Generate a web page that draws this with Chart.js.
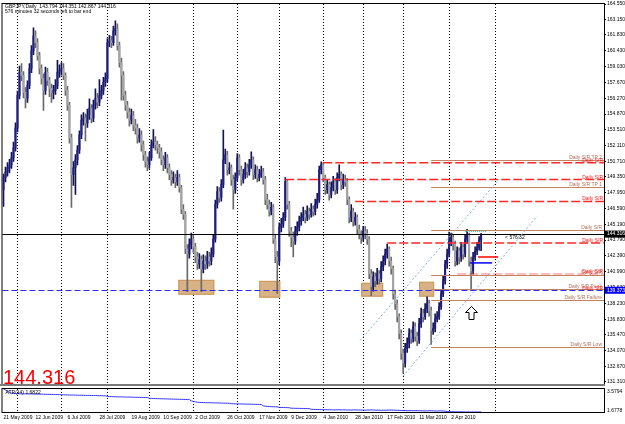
<!DOCTYPE html>
<html>
<head>
<meta charset="utf-8">
<script src="https://cdn.jsdelivr.net/npm/chart.js@4.4.1/dist/chart.umd.min.js"></script>
<style>
  html, body { margin: 0; padding: 0; background: #fff; }
  #wrap { position: relative; width: 625px; height: 424px; overflow: hidden; }
  .pane { position: absolute; left: 0; width: 625px; }
</style>
</head>
<body>
<div id="wrap">
  <div class="pane" style="top:0;height:388px"><canvas id="main"></canvas></div>
  <div class="pane" style="top:388px;height:36px"><canvas id="atr"></canvas></div>
</div>
<script>
// GBPJPY daily candles, 21 May 2009 .. 23 Apr 2010
const opens = [
  148.23,149.28,149.80,150.15,150.41,151.03,151.90,153.64,156.52,158.53,
  158.27,156.78,156.26,157.40,158.88,160.45,161.76,161.15,160.01,158.88,
  158.01,156.96,158.53,157.83,157.13,156.78,156.96,157.40,158.53,158.70,
  158.88,158.27,156.96,155.65,152.77,149.54,150.15,150.85,151.72,153.03,
  154.34,154.52,154.08,154.78,155.39,154.52,155.65,156.26,155.91,156.52,
  156.96,157.66,158.01,161.15,161.32,161.15,162.19,162.37,160.89,159.40,
  158.27,156.52,155.65,155.04,154.34,154.78,153.90,153.64,152.77,153.03,
  152.16,151.29,150.68,150.41,151.03,152.16,152.42,152.16,151.90,151.55,
  150.85,150.41,151.03,150.15,149.54,149.11,149.28,148.93,149.28,148.41,
  146.49,146.05,143.00,142.56,143.43,143.87,143.17,142.30,141.69,142.12,
  141.25,141.95,141.69,142.30,141.95,142.56,143.87,146.92,148.06,147.53,
  148.67,150.85,151.29,149.98,150.15,149.11,148.23,149.28,151.03,149.98,
  149.11,149.54,150.15,149.80,150.41,150.85,149.54,149.98,149.28,149.54,
  149.80,149.11,147.36,146.92,146.31,146.66,143.87,142.30,141.95,144.92,
  145.18,145.79,148.93,146.92,144.57,144.04,143.70,144.57,144.92,145.44,
  145.79,146.05,145.79,146.31,146.05,146.49,146.31,146.92,147.36,149.98,
  150.41,149.28,148.23,148.67,147.80,148.41,148.93,148.23,149.28,149.54,
  148.67,149.11,148.93,147.36,145.79,146.31,145.44,145.79,144.74,144.31,
  144.04,144.57,144.39,143.87,140.82,139.68,140.55,140.21,140.82,140.38,
  141.43,141.95,142.56,143.00,141.95,141.25,139.07,138.20,137.06,135.58,
  133.84,132.96,134.27,134.71,135.58,135.14,136.19,135.32,134.97,136.45,
  137.33,137.06,137.76,138.20,137.59,135.84,136.02,136.89,137.06,137.94,
  139.07,140.21,141.69,142.56,143.70,144.04,143.43,141.95,142.82,142.30,
  143.17,142.56,143.87,144.22,141.95,141.08,142.30,142.82,143.17,143.794
];
const highs = [
  149.60,150.20,150.60,150.90,151.50,152.40,154.10,156.90,159.10,159.30,
  158.60,157.20,157.80,159.30,160.90,162.46,162.20,161.50,160.30,159.20,
  158.40,159.00,158.90,158.10,157.50,157.40,157.90,159.60,159.20,159.40,
  159.30,158.50,157.30,155.90,153.10,150.70,151.30,152.10,153.40,154.80,
  155.00,154.90,155.30,156.20,155.70,156.10,157.10,156.70,157.90,157.40,
  158.10,158.50,161.50,161.80,161.70,162.60,163.07,162.80,161.20,159.80,
  158.60,156.90,156.00,155.40,155.30,155.10,154.40,154.00,153.60,153.40,
  152.50,151.60,151.10,151.50,152.60,153.50,152.90,152.50,152.20,151.90,
  151.20,151.50,151.30,150.50,149.90,149.80,149.60,149.90,149.60,148.60,
  146.90,146.30,143.40,143.90,144.40,144.20,143.50,142.70,142.60,142.40,
  142.50,142.40,142.80,142.70,143.10,144.20,147.30,148.50,148.40,149.10,
  153.47,151.80,151.60,150.60,150.40,149.50,149.70,151.40,151.30,150.30,
  150.00,150.60,150.50,150.90,151.55,151.10,150.40,150.30,150.00,150.30,
  150.10,149.40,147.80,147.30,147.10,146.90,144.20,142.80,145.30,145.70,
  146.20,149.28,149.10,147.20,144.90,144.50,145.00,145.40,145.90,146.20,
  146.70,146.40,146.80,146.60,147.00,146.80,147.40,147.90,150.30,150.68,
  150.60,149.50,149.10,148.90,148.90,149.40,149.20,149.70,150.41,149.80,
  149.60,149.50,149.20,147.60,146.92,146.60,146.20,146.00,145.10,144.60,
  145.00,145.00,144.70,144.10,141.20,141.00,140.90,141.30,141.10,141.90,
  142.40,143.00,143.43,143.20,142.30,141.50,139.40,138.50,137.30,135.90,
  134.20,134.70,135.20,136.00,135.90,136.60,136.50,135.70,136.90,137.80,
  137.70,138.20,138.80,138.50,137.90,136.50,137.30,137.50,138.30,139.40,
  140.60,142.00,143.00,144.48,144.40,144.30,143.70,143.20,143.10,143.60,
  143.40,144.20,144.74,144.40,142.30,142.70,143.20,143.60,144.10,144.351
];
const lows = [
  146.75,148.90,149.40,149.70,150.10,150.70,151.60,153.30,156.20,157.80,
  156.30,155.40,155.90,157.10,158.50,160.10,160.70,159.60,158.40,157.50,
  155.20,156.60,157.40,156.40,155.90,156.20,156.60,157.10,158.10,158.30,
  157.90,156.50,155.20,152.30,146.66,148.60,147.80,150.40,151.40,152.70,
  153.90,152.50,153.70,154.40,154.10,154.20,155.30,155.40,155.60,156.20,
  156.60,157.30,157.70,160.80,160.70,160.90,161.80,160.50,159.00,156.10,
  156.10,155.20,154.50,153.80,154.00,153.40,153.10,152.30,152.40,151.60,
  150.80,150.20,149.90,150.10,150.80,151.90,151.70,151.40,151.00,150.40,
  149.90,150.10,149.70,149.10,148.60,148.80,148.40,148.60,148.00,146.10,
  145.60,142.60,139.24,142.20,143.00,142.70,141.80,141.20,141.30,139.24,
  140.90,141.20,141.30,141.50,141.60,142.30,143.60,146.60,147.10,147.20,
  148.40,150.50,149.50,149.60,148.60,146.50,147.90,149.00,149.50,148.60,
  148.80,149.20,149.30,149.50,150.10,149.10,149.20,148.90,149.00,149.30,
  148.70,146.90,146.50,145.90,146.00,143.50,141.80,139.07,141.60,144.50,
  144.90,145.50,146.50,144.10,143.20,142.30,143.40,144.20,144.60,145.10,
  145.50,145.30,145.50,145.60,145.80,145.90,146.00,146.60,147.10,149.60,
  148.90,147.80,147.90,147.30,147.50,148.10,147.80,147.90,149.00,148.20,
  148.30,148.50,146.90,145.30,145.40,145.00,145.10,144.30,143.90,143.50,
  143.70,143.90,143.40,140.40,138.90,139.30,139.70,139.90,139.90,140.10,
  141.10,141.60,142.20,141.50,140.80,138.60,137.70,136.60,135.10,133.30,
  132.09,132.60,133.90,134.30,134.70,134.80,134.90,134.50,134.70,136.10,
  136.60,136.80,137.40,137.10,134.62,135.50,135.70,136.60,136.80,137.70,
  138.80,139.90,141.30,142.30,143.30,142.90,141.50,141.60,141.70,141.90,
  142.10,142.30,143.50,141.50,139.33,140.80,142.00,142.50,142.90,142.867
];
const closes = [
  149.28,149.80,150.15,150.41,151.03,151.90,153.64,156.52,158.53,158.27,
  156.78,156.26,157.40,158.88,160.45,161.76,161.15,160.01,158.88,158.01,
  156.96,158.53,157.83,157.13,156.78,156.96,157.40,158.53,158.70,158.88,
  158.27,156.96,155.65,152.77,149.54,150.15,150.85,151.72,153.03,154.34,
  154.52,154.08,154.78,155.39,154.52,155.65,156.26,155.91,156.52,156.96,
  157.66,158.01,161.15,161.32,161.15,162.19,162.37,160.89,159.40,158.27,
  156.52,155.65,155.04,154.34,154.78,153.90,153.64,152.77,153.03,152.16,
  151.29,150.68,150.41,151.03,152.16,152.42,152.16,151.90,151.55,150.85,
  150.41,151.03,150.15,149.54,149.11,149.28,148.93,149.28,148.41,146.49,
  146.05,143.00,142.56,143.43,143.87,143.17,142.30,141.69,142.12,141.25,
  141.95,141.69,142.30,141.95,142.56,143.87,146.92,148.06,147.53,148.67,
  150.85,151.29,149.98,150.15,149.11,148.23,149.28,151.03,149.98,149.11,
  149.54,150.15,149.80,150.41,150.85,149.54,149.98,149.28,149.54,149.80,
  149.11,147.36,146.92,146.31,146.66,143.87,142.30,141.95,144.92,145.18,
  145.79,148.93,146.92,144.57,144.04,143.70,144.57,144.92,145.44,145.79,
  146.05,145.79,146.31,146.05,146.49,146.31,146.92,147.36,149.98,150.41,
  149.28,148.23,148.67,147.80,148.41,148.93,148.23,149.28,149.54,148.67,
  149.11,148.93,147.36,145.79,146.31,145.44,145.79,144.74,144.31,144.04,
  144.57,144.39,143.87,140.82,139.68,140.55,140.21,140.82,140.38,141.43,
  141.95,142.56,143.00,141.95,141.25,139.07,138.20,137.06,135.58,133.84,
  132.96,134.27,134.71,135.58,135.14,136.19,135.32,134.97,136.45,137.33,
  137.06,137.76,138.20,137.59,135.84,136.02,136.89,137.06,137.94,139.07,
  140.21,141.69,142.56,143.70,144.04,143.43,141.95,142.82,142.30,143.17,
  142.56,143.87,144.22,141.95,141.08,142.30,142.82,143.17,143.794,144.316
];
// ATR indicator values
const atr = [
  3.58,3.50,3.40,3.30,3.22,
  3.20,3.20,3.19,3.19,3.18,3.18,3.18,3.17,3.17,3.17,3.16,3.16,3.16,3.15,3.15,3.15,3.14,3.14,3.14,3.13,3.13,3.13,3.12,3.12,
  3.10,3.10,3.09,3.09,3.08,3.08,3.08,3.07,3.07,3.06,3.06,3.06,3.05,3.05,3.05,3.04,3.04,3.04,3.03,3.03,3.03,3.02,3.02,
  2.96,2.95,2.95,2.94,2.94,2.93,2.93,2.92,2.92,2.92,2.91,2.91,2.90,2.90,2.90,2.89,2.89,2.89,2.88,2.88,2.88,
  2.80,2.80,2.79,2.79,2.78,2.78,2.77,2.77,2.76,2.76,2.75,2.75,2.74,2.74,2.73,2.73,2.72,2.72,2.71,2.71,2.70,
  2.60,2.55,2.52,2.49,2.47,
  2.46,2.46,2.45,2.45,2.44,2.44,2.44,2.43,2.43,2.42,2.42,2.41,2.41,2.40,2.40,
  2.36,2.36,2.35,2.35,2.35,2.34,2.34,2.33,2.33,2.33,2.32,2.32,2.31,2.31,2.30,2.30,
  2.18,2.16,2.14,2.13,2.12,2.11,2.11,2.10,
  2.06,2.05,2.05,2.04,2.04,2.03,
  1.99,1.99,1.98,1.98,1.98,1.97,1.97,1.97,1.96,1.96,
  1.90,1.89,1.89,1.88,1.88,1.87,1.87,1.87,1.86,1.86,1.86,1.85,1.85,1.86,1.86,1.85,1.85,1.85,1.84,1.84,
  1.84,1.85,1.85,1.84,1.84,1.84,1.83,1.83,1.84,1.84,1.85,1.84,1.83,1.83,1.83,1.82,1.82,1.83,1.83,1.84,
  1.84,1.83,1.82,1.82,1.81,1.81,
  1.80,1.80,1.79,1.79,1.79,1.78,1.79,1.79,1.78,1.78,1.77,1.77,1.77,1.78,1.78,1.77,1.76,1.76,1.77,1.77,1.76,1.75,
  1.71,1.70,1.70,1.70,1.69,1.69,1.69,1.69,1.69,1.68,1.68,1.68,1.68,1.68,1.68,1.68,1.68,1.68
];

const dateLabels = ['21 May 2009','12 Jun 2009','6 Jul 2009','28 Jul 2009','19 Aug 2009','10 Sep 2009',
  '2 Oct 2009','26 Oct 2009','17 Nov 2009','9 Dec 2009','4 Jan 2010','28 Jan 2010','17 Feb 2010',
  '11 Mar 2010','2 Apr 2010'];
const labelStep = 16;
const monthStarts = [7, 29, 52, 73, 95, 117, 138, 160, 180, 200, 223, 246];
const totalSlots = 301; // bars + empty space on the right (chart shift)

const priceTicks = [164.55,163.15,161.83,160.43,159.03,157.67,156.27,154.87,153.51,152.11,150.71,149.35,
  147.95,146.59,145.19,143.79,142.39,140.99,139.63,138.23,136.83,135.47,134.07,132.67,131.31];
const priceTop = 164.55, priceBottom = 131.13;
const atrTop = 3.5794, atrBottom = 1.6778;

const lastPrice = 144.316;
const markPrice = 139.373;
// red dashed Daily S/R levels
const srPrices = [150.59, 149.11, 147.19, 143.52, 140.80];
const srFrom = [160, 141, 176, 192, 227];
// brown S/R status lines
const tpPrices = [150.85, 148.49, 144.65, 140.73, 139.51, 138.55, 134.36];
const tpNames = ['Daily S/R TP 2','Daily S/R TP 1','Daily S/R','Daily S/R','Daily S/R Peak','Daily S/R Failure','Daily S/R Low'];
const tpFrom = 214;
// support zones
const zoneFrom = [87.5, 128, 179, 208];
const zoneTo = [105.5, 138.5, 190, 215.5];
const zoneHigh = [140.29, 140.20, 140.03, 140.12];
const zoneLow = [138.98, 138.72, 138.81, 138.81];
// channel lines
const chanFrom = [178.5, 200];
const chanFromPrice = [134.97, 131.83];
const chanTo = [247, 267];
const chanToPrice = [148.93, 145.88];

const slots = Array.from({ length: totalSlots }, (_, i) => i);
const FONT = '"Liberation Sans", Arial, sans-serif';
const isUp = i => closes[i] >= opens[i];

function hline(ctx, x0, x1, yy, color, width, dash) {
  ctx.save();
  ctx.strokeStyle = color; ctx.lineWidth = width; ctx.setLineDash(dash || []);
  ctx.beginPath(); ctx.moveTo(x0, yy); ctx.lineTo(x1, yy); ctx.stroke();
  ctx.restore();
}
function monthGrid(chart) {
  const { ctx, chartArea: a, scales: { x } } = chart;
  ctx.save();
  ctx.strokeStyle = '#000'; ctx.lineWidth = 1; ctx.setLineDash([1, 2]);
  monthStarts.forEach(i => {
    const px = Math.round(x.getPixelForValue(i)) + 0.5;
    ctx.beginPath(); ctx.moveTo(px, a.top); ctx.lineTo(px, a.bottom); ctx.stroke();
  });
  ctx.restore();
}

const mainOverlay = {
  id: 'mainOverlay',
  beforeDatasetsDraw(chart) {
    const { ctx, scales: { x, y } } = chart;
    monthGrid(chart);
    ctx.save();
    zoneFrom.forEach((f, k) => {
      const x0 = x.getPixelForValue(f), x1 = x.getPixelForValue(zoneTo[k]);
      const y0 = y.getPixelForValue(zoneHigh[k]), y1 = y.getPixelForValue(zoneLow[k]);
      ctx.fillStyle = '#d8b184';
      ctx.fillRect(x0, y0, x1 - x0, y1 - y0);
      ctx.strokeStyle = '#c9985e'; ctx.lineWidth = 1;
      ctx.strokeRect(x0 + 0.5, y0 + 0.5, x1 - x0 - 1, y1 - y0 - 1);
    });
    ctx.restore();
  },
  afterDatasetsDraw(chart) {
    const { ctx, chartArea: a, scales: { x, y } } = chart;
    const R = a.right;
    // blue dashed level and bid line
    hline(ctx, a.left, R, Math.round(y.getPixelForValue(markPrice)) + 0.5, '#2a2aff', 1, [6, 3]);
    hline(ctx, a.left, R, Math.round(y.getPixelForValue(lastPrice)) + 0.5, '#000', 1);
    // brown status lines
    tpPrices.forEach(p => hline(ctx, x.getPixelForValue(tpFrom), R, Math.round(y.getPixelForValue(p)) + 0.5, '#c3825f', 1));
    // red dashed S/R
    srPrices.forEach((p, k) => hline(ctx, x.getPixelForValue(srFrom[k]), R, y.getPixelForValue(p), k === 4 ? 'rgba(255,60,60,0.45)' : '#ff2a2a', 1.5, [9, 3]));
    // labels
    ctx.save();
    ctx.font = '5px ' + FONT; ctx.textAlign = 'right'; ctx.textBaseline = 'alphabetic';
    tpPrices.forEach((p, k) => { ctx.fillStyle = '#b0705a'; ctx.fillText(tpNames[k], R - 2, y.getPixelForValue(p) - 1); });
    srPrices.forEach(p => { ctx.fillStyle = '#ff1a1a'; ctx.fillText('Daily S/R', R - 1, y.getPixelForValue(p) - 1); });
    ctx.fillStyle = '#ff1a1a'; ctx.fillText('Daily S/R', R - 1, y.getPixelForValue(markPrice) - 0.5);
    ctx.restore();
    // channel
    ctx.save();
    ctx.strokeStyle = '#7fb0e6'; ctx.lineWidth = 1; ctx.setLineDash([2, 2]);
    chanFrom.forEach((f, k) => {
      ctx.beginPath();
      ctx.moveTo(x.getPixelForValue(f), y.getPixelForValue(chanFromPrice[k]));
      ctx.lineTo(x.getPixelForValue(chanTo[k]), y.getPixelForValue(chanToPrice[k]));
      ctx.stroke();
    });
    ctx.restore();
    // small markers near the last bars
    hline(ctx, x.getPixelForValue(231), x.getPixelForValue(242), Math.round(y.getPixelForValue(144.57)) + 0.5, '#3cc8c0', 1, [1, 1]);
    hline(ctx, x.getPixelForValue(237.5), x.getPixelForValue(247.5), y.getPixelForValue(142.30), '#ff0000', 1.5);
    hline(ctx, x.getPixelForValue(233.5), x.getPixelForValue(244.5), y.getPixelForValue(141.78), '#0000ff', 1.5);
    // hollow up arrow
    ctx.save();
    const ax = Math.round(x.getPixelForValue(234)) + 0.5, ay = Math.round(y.getPixelForValue(138.02)) + 0.5;
    ctx.beginPath();
    ctx.moveTo(ax, ay); ctx.lineTo(ax + 6, ay + 6); ctx.lineTo(ax + 2.5, ay + 6); ctx.lineTo(ax + 2.5, ay + 13);
    ctx.lineTo(ax - 2.5, ay + 13); ctx.lineTo(ax - 2.5, ay + 6); ctx.lineTo(ax - 6, ay + 6); ctx.closePath();
    ctx.fillStyle = '#fff'; ctx.fill(); ctx.strokeStyle = '#000'; ctx.lineWidth = 1; ctx.stroke();
    ctx.restore();
    // texts
    ctx.save();
    ctx.fillStyle = '#000'; ctx.font = '5px ' + FONT; ctx.textAlign = 'left';
    ctx.fillText('< 576:32', x.getPixelForValue(251), y.getPixelForValue(lastPrice) + 5);
    ctx.fillText('GBPJPY,Daily  143.794 144.351 142.867 144.316', 5, 8);
    ctx.fillText('576 minutes 32 seconds left to bar end', 5, 13);
    ctx.fillStyle = '#ff0000'; ctx.font = '20px ' + FONT;
    ctx.fillText(lastPrice.toFixed(3), 3, 384);
    ctx.restore();
    // axis price boxes
    ctx.save();
    ctx.font = '5px ' + FONT; ctx.textBaseline = 'middle'; ctx.textAlign = 'left';
    [[lastPrice, '#000'], [markPrice, '#0000ff']].forEach(([p, c]) => {
      const py = y.getPixelForValue(p);
      ctx.fillStyle = c; ctx.fillRect(R + 1, py - 3.5, 625 - R, 7);
      ctx.fillStyle = '#fff'; ctx.fillText(p.toFixed(3), R + 3, py);
    });
    ctx.restore();
    // frame
    ctx.save();
    ctx.strokeStyle = '#000'; ctx.lineWidth = 1;
    ctx.strokeRect(a.left - 0.5, a.top - 0.5, a.right - a.left + 1, a.bottom - a.top + 1);
    hline(ctx, 0, R + 1, a.bottom + 1, '#7a7a7a', 2);
    ctx.restore();
  }
};

const atrOverlay = {
  id: 'atrOverlay',
  beforeDatasetsDraw(chart) { monthGrid(chart); },
  afterDatasetsDraw(chart) {
    const { ctx, chartArea: a } = chart;
    ctx.save();
    ctx.strokeStyle = '#000'; ctx.lineWidth = 1;
    ctx.strokeRect(a.left - 0.5, a.top - 0.5, a.right - a.left + 1, a.bottom - a.top + 1);
    ctx.fillStyle = '#000'; ctx.font = '5px ' + FONT; ctx.textBaseline = 'middle';
    ctx.fillText('ATR(14) 1.6822', a.left + 3, a.top + 4);
    ctx.fillText(atrTop.toFixed(4), a.right + 3, a.top + 3);
    ctx.fillText(atrBottom.toFixed(4), a.right + 3, a.bottom - 1.5);
    ctx.restore();
  }
};

new Chart(document.getElementById('main'), {
  type: 'bar',
  data: {
    labels: slots,
    datasets: [
      {
        data: lows.map((l, i) => [l, highs[i]]),
        backgroundColor: c => isUp(c.dataIndex) ? '#141450' : '#6a6a6a',
        barThickness: 1, grouped: false, order: 2
      },
      {
        data: opens.map((o, i) => [o, closes[i]]),
        backgroundColor: c => isUp(c.dataIndex) ? '#1e1e82' : '#a4a4a4',
        barThickness: 1.4, grouped: false, minBarLength: 1, order: 1
      }
    ]
  },
  options: {
    animation: false, responsive: true, maintainAspectRatio: false,
    layout: { padding: { left: 2.5, top: 3, right: 0, bottom: 2 } },
    plugins: { legend: { display: false }, tooltip: { enabled: false } },
    scales: {
      x: { display: false, offset: true },
      y: {
        position: 'right', min: priceBottom, max: priceTop,
        afterBuildTicks: s => { s.ticks = priceTicks.map(v => ({ value: v })); },
        afterFit: s => { s.width = 21; },
        ticks: { autoSkip: false, color: '#000', padding: 1, font: { size: 5, family: FONT }, callback: v => v.toFixed(3) },
        grid: { drawOnChartArea: false, drawTicks: true, tickLength: 2, color: '#000' },
        border: { display: true, color: '#000' }
      }
    }
  },
  plugins: [mainOverlay]
});

new Chart(document.getElementById('atr'), {
  type: 'line',
  data: {
    labels: slots,
    datasets: [{ data: atr, borderColor: '#3535ff', borderWidth: 1, pointRadius: 0, tension: 0 }]
  },
  options: {
    animation: false, responsive: true, maintainAspectRatio: false,
    layout: { padding: { left: 2.5, top: 1, right: 0, bottom: 0 } },
    plugins: { legend: { display: false }, tooltip: { enabled: false } },
    scales: {
      x: {
        offset: true,
        afterFit: s => { s.height = 12; },
        grid: { display: false, drawTicks: false, tickLength: 0 }, border: { display: false },
        ticks: {
          autoSkip: false, maxRotation: 0, align: 'start', padding: 3, color: '#000',
          font: { size: 5, family: FONT },
          callback: (v, i) => (i % labelStep === 0 && dateLabels[i / labelStep]) ? dateLabels[i / labelStep] : ''
        }
      },
      y: {
        position: 'right', min: atrBottom, max: atrTop,
        afterFit: s => { s.width = 21; },
        ticks: { display: false },
        grid: { display: false, drawTicks: false },
        border: { display: true, color: '#000' }
      }
    }
  },
  plugins: [atrOverlay]
});
</script>
</body>
</html>
